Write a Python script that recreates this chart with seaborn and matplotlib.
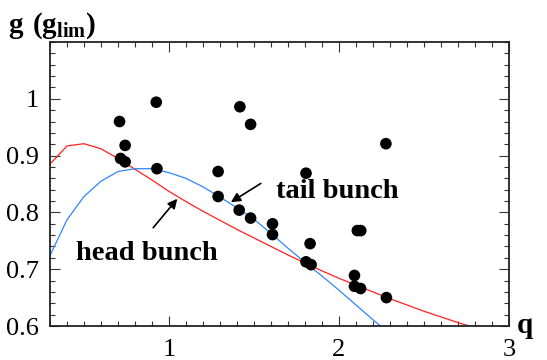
import numpy as np
import pandas as pd
import matplotlib
matplotlib.use("Agg")
import matplotlib.pyplot as plt
import seaborn as sns
from matplotlib.ticker import MultipleLocator, FixedLocator, FixedFormatter

# measured points (q, g in units of g_lim)
q_meas = [0.709, 0.742, 0.715, 0.742, 0.925, 0.929, 1.417, 1.480, 1.289, 1.289,
          1.413, 1.480, 1.609, 1.609, 1.806, 1.830, 1.806, 1.836, 2.108, 2.128,
          2.091, 2.091, 2.127, 2.279, 2.276]
g_meas = [0.960, 0.918, 0.895, 0.889, 0.994, 0.877, 0.986, 0.955, 0.872, 0.828,
          0.804, 0.790, 0.780, 0.761, 0.869, 0.745, 0.713, 0.708, 0.768, 0.768,
          0.689, 0.670, 0.666, 0.650, 0.921]

# model curves
q_curve = [0.3, 0.4, 0.5, 0.6, 0.7, 0.8, 0.9, 1.0, 1.1, 1.2, 1.3, 1.4, 1.5,
           1.6, 1.7, 1.8, 1.9, 2.0, 2.1, 2.2, 2.3, 2.4, 2.5, 2.6, 2.7, 2.8, 2.9]
g_head = [0.885, 0.917, 0.921, 0.912, 0.895, 0.876, 0.857, 0.837, 0.819, 0.802,
          0.786, 0.770, 0.755, 0.740, 0.725, 0.711, 0.697, 0.684, 0.672, 0.660,
          0.648, 0.637, 0.626, 0.616, 0.606, 0.597, 0.588]
g_tail = [0.724, 0.787, 0.828, 0.855, 0.872, 0.877, 0.877, 0.870, 0.860, 0.845,
          0.827, 0.808, 0.788, 0.763, 0.737, 0.712, 0.688, 0.663, 0.637, 0.611,
          0.586, 0.560, 0.534, 0.508, 0.482, 0.456, 0.430]

x_ticks = [1, 2, 3]
x_labels = ["1", "2", "3"]
y_ticks = [0.6, 0.7, 0.8, 0.9, 1.0]
y_labels = ["0.6", "0.7", "0.8", "0.9", "1"]

sns.set_style("ticks")
plt.rcParams["font.family"] = ["Liberation Serif", "DejaVu Serif"]
plt.rcParams["mathtext.fontset"] = "custom"
plt.rcParams["mathtext.rm"] = "Liberation Serif"
plt.rcParams["mathtext.bf"] = "Liberation Serif:bold"
plt.rcParams["text.color"] = "black"
plt.rcParams["xtick.labelcolor"] = "black"
plt.rcParams["ytick.labelcolor"] = "black"

curves = pd.DataFrame({"q": q_curve, "head": g_head, "tail": g_tail})
points = pd.DataFrame({"q": q_meas, "g": g_meas})

fig = plt.figure(figsize=(5.47, 3.6), dpi=100)
ax = fig.add_axes([0.0914, 0.0944, 0.8391, 0.7889])

sns.lineplot(data=curves, x="q", y="head", ax=ax, color="#ff2020", lw=0.9)
sns.lineplot(data=curves, x="q", y="tail", ax=ax, color="#2f86ff", lw=0.9)
sns.scatterplot(data=points, x="q", y="g", ax=ax, color="black", s=70,
                edgecolor="none", zorder=3)

ax.set_xlim(0.3, 3)
ax.set_ylim(0.6, 1.1)
ax.set_xlabel("")
ax.set_ylabel("")

ax.xaxis.set_major_locator(FixedLocator(x_ticks))
ax.xaxis.set_major_formatter(FixedFormatter(x_labels))
ax.xaxis.set_minor_locator(MultipleLocator(0.1))
ax.yaxis.set_major_locator(FixedLocator(y_ticks))
ax.yaxis.set_major_formatter(FixedFormatter(y_labels))
ax.yaxis.set_minor_locator(MultipleLocator(0.02))

ax.tick_params(which="both", direction="in", top=True, right=True,
               width=0.8, color="#333333", labelcolor="black")
ax.tick_params(which="major", length=7, labelsize=19)
ax.tick_params(which="minor", length=3.5)
ax.tick_params(axis="x", which="major", pad=9)
ax.tick_params(axis="y", which="major", pad=8)
for sp in ax.spines.values():
    sp.set_linewidth(1.3)
    sp.set_color("#222222")

# labels and arrows
ax.text(1.631, 0.825, "tail bunch", fontsize=20.5, fontweight="bold", color="black")
ax.text(0.451, 0.716, "head bunch", fontsize=20.5, fontweight="bold", color="black")
arrow = dict(arrowstyle="-|>", lw=1.2, color="black", mutation_scale=14,
             shrinkA=0, shrinkB=0)
ax.annotate("", xy=(1.364, 0.818), xytext=(1.540, 0.851), arrowprops=arrow)
ax.annotate("", xy=(1.049, 0.824), xytext=(0.907, 0.773), arrowprops=arrow)

fig.text(0.014, 0.93, r"$\mathbf{g\ (g_{lim})}$", fontsize=21, va="center", color="black")
fig.text(0.945, 0.097, "q", fontsize=21, fontweight="bold", va="center", color="black")

fig.savefig("out.png", dpi=100)
